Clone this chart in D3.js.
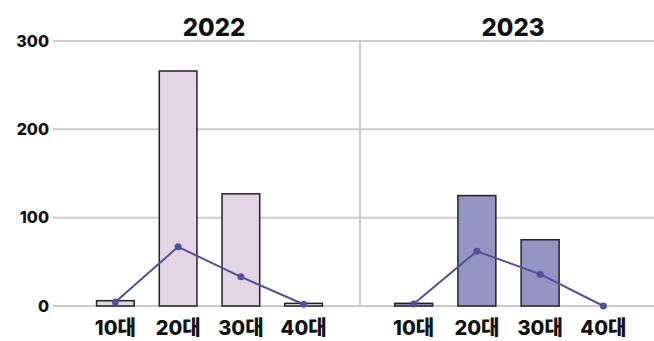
<!DOCTYPE html>
<html><head><meta charset="utf-8">
<script src="https://cdn.jsdelivr.net/npm/d3@7"></script>
<style>
html,body{margin:0;padding:0;background:#fff;}
svg{display:block;font-family:Inter,"Noto Sans CJK KR","Noto Sans",sans-serif;}
</style></head>
<body>
<svg id="chart" width="654" height="341"></svg>
<script>
const categories = ["10대","20대","30대","40대"];
const years = ["2022","2023"];
const barValues2022 = [6, 266, 127, 3];
const barValues2023 = [3, 125, 75, 0];
const lineValues2022 = [4.5, 67, 33, 2];
const lineValues2023 = [2.3, 62, 36, 0];
const yTicks = [0, 100, 200, 300];

const barFills = ["#e3d4e6", "#9694c3"];
const lineColor = "#4f5299";

const svg = d3.select("#chart");
const y = d3.scaleLinear().domain([0, 300]).range([306, 41]);

const panels = [
  {year: years[0], bars: barValues2022, line: lineValues2022, range: [84, 335], titleX: 214, fill: barFills[0]},
  {year: years[1], bars: barValues2023, line: lineValues2023, range: [382, 635], titleX: 513, fill: barFills[1]}
];

svg.append("g").selectAll("line").data(yTicks).join("line")
  .attr("x1", 53).attr("x2", 654)
  .attr("y1", d => y(d)).attr("y2", d => y(d))
  .attr("stroke", "#cccccc").attr("stroke-width", 2);

svg.append("line").attr("x1", 360).attr("x2", 360)
  .attr("y1", y(300)).attr("y2", y(0))
  .attr("stroke", "#cccccc").attr("stroke-width", 2);

svg.append("g").selectAll("text").data(yTicks).join("text")
  .attr("x", 49).attr("y", d => y(d)).attr("dy", "0.36em")
  .attr("text-anchor", "end")
  .attr("font-size", 16).attr("font-weight", 800).attr("fill", "#111")
  .text(d => d);

panels.forEach(p => {
  const x = d3.scaleBand().domain(categories).range(p.range).paddingInner(0.4).paddingOuter(0.2);
  const g = svg.append("g");
  g.append("text").attr("x", p.titleX).attr("y", 35.5).attr("text-anchor", "middle")
    .attr("font-size", 24).attr("font-weight", 800).attr("fill", "#111").text(p.year);

  g.selectAll("rect").data(categories.map((c, i) => ({c, v: p.bars[i]})).filter(d => d.v > 0)).join("rect")
    .attr("x", d => x(d.c)).attr("width", x.bandwidth())
    .attr("y", d => y(d.v)).attr("height", d => y(0) - y(d.v))
    .attr("fill", p.fill).attr("stroke", "#222").attr("stroke-width", 1.5);

  const pts = categories.map((c, i) => ({c, v: p.line[i]}));
  const line = d3.line().x(d => x(d.c) + x.bandwidth() / 2).y(d => y(d.v));
  g.append("path").datum(pts).attr("d", line).attr("fill", "none")
    .attr("stroke", lineColor).attr("stroke-width", 2);
  g.selectAll("circle").data(pts).join("circle")
    .attr("cx", d => x(d.c) + x.bandwidth() / 2).attr("cy", d => y(d.v)).attr("r", 3.5)
    .attr("fill", lineColor);

  g.selectAll("text.xl").data(categories).join("text").attr("class", "xl")
    .attr("x", d => x(d) + x.bandwidth() / 2).attr("y", 335)
    .attr("text-anchor", "middle").attr("font-size", 20).attr("font-weight", 800).attr("fill", "#111")
    .text(d => d);
});
</script>
</body></html>
